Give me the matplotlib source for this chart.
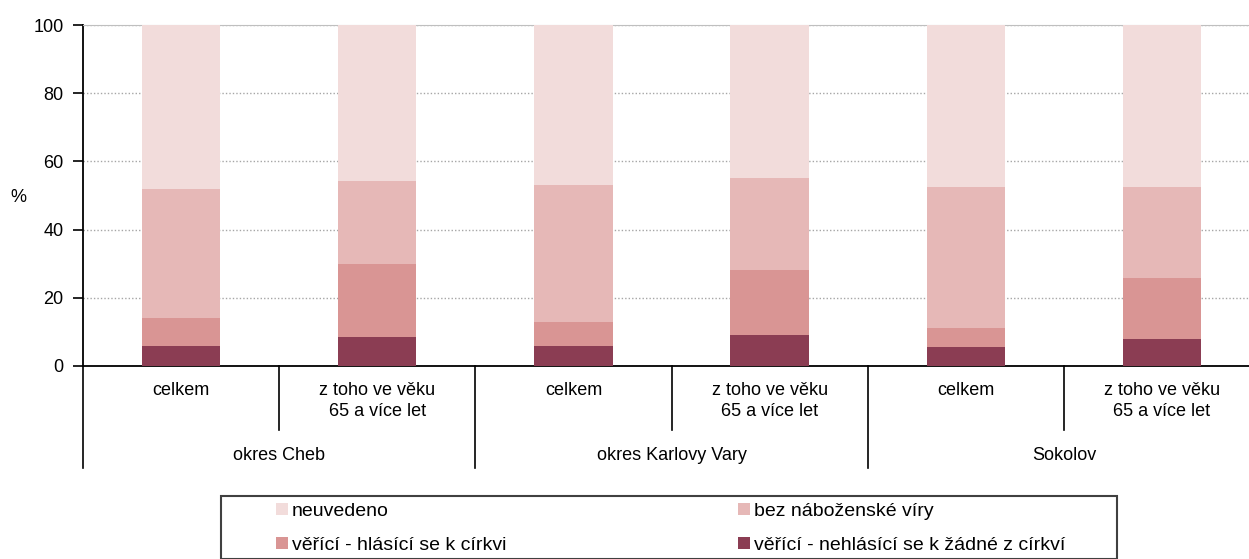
import numpy as np
import matplotlib
matplotlib.use("Agg")
from matplotlib import pyplot as plt
from matplotlib.patches import Rectangle

plt.rcParams["font.family"] = ["Liberation Sans", "DejaVu Sans"]
plt.rcParams["font.size"] = 13

# data (percent), stacked bottom -> top
sub_labels = ["celkem", "z toho ve věku\n65 a více let"] * 3
group_labels = ["okres Cheb", "okres Karlovy Vary", "Sokolov"]
nehlasici = [6.0, 8.4, 6.0, 9.0, 5.5, 7.8]
hlasici = [8.1, 21.4, 7.0, 19.2, 5.7, 18.0]
bez_viry = [37.7, 24.4, 40.0, 27.0, 41.2, 26.6]
neuvedeno = [48.2, 45.8, 47.0, 44.8, 47.6, 47.6]

series_names = ["věřící - nehlásící se k žádné z církví", "věřící - hlásící se k církvi",
                "bez náboženské víry", "neuvedeno"]
colors = ["#8B3D53", "#D99594", "#E6B8B7", "#F2DCDB"]

W, H = 1249, 559
fig = plt.figure(figsize=(W / 100, H / 100), dpi=100)
ax = fig.add_axes([83 / W, 1 - 366 / H, (1260 - 83) / W, 341 / H])

x = np.arange(len(sub_labels))
bottom = np.zeros(len(x))
bars = []
for vals, name, c in zip([nehlasici, hlasici, bez_viry, neuvedeno], series_names, colors):
    b = ax.bar(x, vals, 0.4, bottom=bottom, color=c, label=name, zorder=3)
    bars.append(b)
    bottom += np.array(vals)

ax.set_xlim(-0.5, 5.5)
ax.set_ylim(0, 100)
ax.set_yticks([0, 20, 40, 60, 80, 100])
ax.yaxis.grid(True, linestyle=(0, (1, 1.5)), color="#a6a6a6", linewidth=1, zorder=0)
ax.tick_params(axis="y", direction="out", length=7, width=1.2, pad=7, colors="black")
ax.tick_params(axis="x", length=0, labelbottom=False)
ax.spines["right"].set_visible(False)
ax.spines["top"].set_color("#bfbfbf")
ax.spines["left"].set_linewidth(1.3)
ax.spines["bottom"].set_linewidth(1.3)

fig.text(18 / W, 1 - 197 / H, "%", ha="center", va="center")

# two-level category axis
tr = ax.get_xaxis_transform()
for i, lab in enumerate(sub_labels):
    ax.text(i, -0.048, lab, transform=tr, ha="center", va="top", linespacing=1.25)
for xi in [0.5, 2.5, 4.5]:
    ax.plot([xi, xi], [0, -0.188], transform=tr, color="black", lw=1.2, clip_on=False)
for xi in [-0.5, 1.5, 3.5, 5.5]:
    ax.plot([xi, xi], [0, -0.299], transform=tr, color="black", lw=1.2, clip_on=False)
for g, lab in enumerate(group_labels):
    ax.text(2 * g + 0.5, -0.261, lab, transform=tr, ha="center", va="center")

# legend box and two columns
fig.patches.append(Rectangle((221 / W, 0), (1117 - 221) / W, 1 - 496 / H,
                             transform=fig.transFigure, fill=False,
                             edgecolor="#404040", linewidth=1.5))
leg_kw = dict(loc="upper left", frameon=False, fontsize=14,
              handlelength=0.6, handleheight=0.6, handletextpad=0.2,
              labelspacing=0.85, borderpad=0, borderaxespad=0)
fig.legend([bars[3], bars[1]], [series_names[3], series_names[1]],
           bbox_to_anchor=(276 / W, 1 - 503 / H), **leg_kw)
fig.legend([bars[2], bars[0]], [series_names[2], series_names[0]],
           bbox_to_anchor=(738 / W, 1 - 503 / H), **leg_kw)

fig.savefig("out.png", dpi=100)
